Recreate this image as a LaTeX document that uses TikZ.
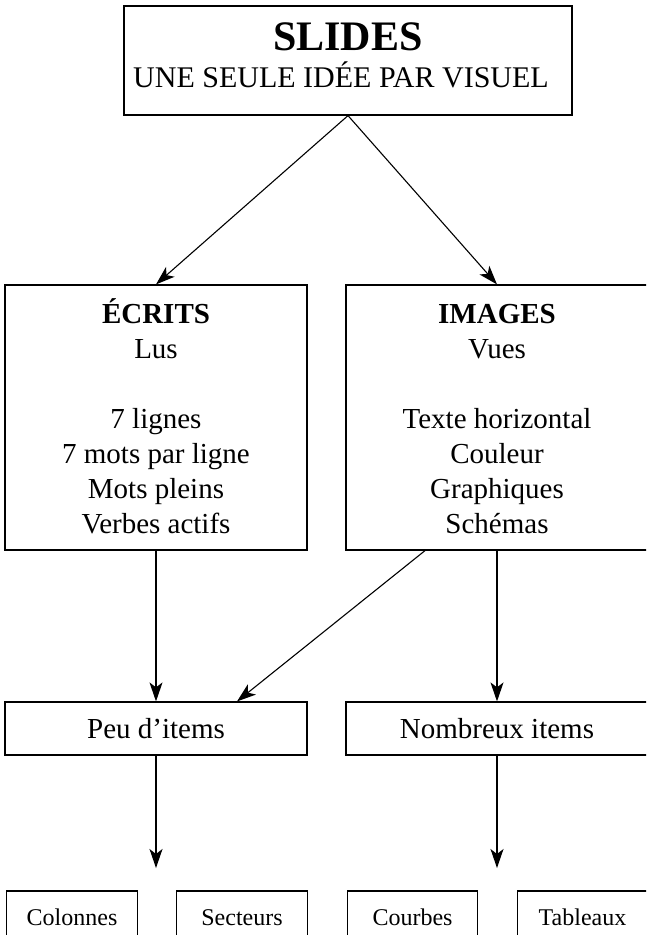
\documentclass[tikz,border=0pt]{standalone}
\usepackage{fontspec}
\setmainfont{Liberation Serif}
\usetikzlibrary{arrows.meta}
\begin{document}
\begin{tikzpicture}[x=1pt,y=-1pt,
  box/.style={draw,line width=1.2pt,rectangle,inner sep=0pt,
    minimum width=#1},
  box/.default=302pt,
  bigbox/.style={box,minimum height=265pt},
  midbox/.style={box,minimum height=53pt,font=\fontsize{29}{35}\selectfont},
  smallbox/.style={box=130.5pt,minimum height=53pt,font=\fontsize{24}{29}\selectfont},
  bodytext/.style={anchor=north,align=center,inner sep=0pt,font=\fontsize{29}{35}\selectfont},
  link/.style={line width=1.1pt,-{Stealth[length=19pt,width=13pt,inset=5pt]}}]
\useasboundingbox (0,0) rectangle (646,935);
\clip (0,0) rectangle (646,935);

% top box
\node[box=448pt,minimum height=109pt] (slides) at (348,60.5) {};
\node[anchor=base,inner sep=0pt,font=\fontsize{42}{50}\selectfont\bfseries] (slidestitle) at (348,50) {SLIDES};
\node[anchor=base,inner sep=0pt,font=\fontsize{30}{35}\selectfont] (slidessub) at (341,87) {UNE SEULE IDÉE PAR VISUEL};

% the two families
\node[bigbox] (ecrits) at (156,417.5) {};
\node[bodytext] (ecritstext) at (156,293) {\rule{0pt}{30pt}\textbf{ÉCRITS}\\Lus\\[35pt]7 lignes\\7 mots par ligne\\Mots pleins\\Verbes actifs};
\node[bigbox] (images) at (497,417.5) {};
\node[bodytext] (imagestext) at (497,293) {\rule{0pt}{30pt}\textbf{IMAGES}\\Vues\\[35pt]Texte horizontal\\Couleur\\Graphiques\\Schémas};

% amount of items
\node[midbox] (peu) at (156,728.5) {Peu d’items};
\node[midbox] (nombreux) at (497,728.5) {Nombreux items};

% chart kinds
\node[smallbox] (colonnes) at (72,917.5) {Colonnes};
\node[smallbox] (secteurs) at (242,917.5) {Secteurs};
\node[smallbox] (courbes) at (412.5,917.5) {Courbes};
\node[smallbox] (tableaux) at (582.5,917.5) {Tableaux};

\coordinate (peuend) at (156,868);
\coordinate (nombreuxend) at (497,868);

% connectors
\draw[link] (slides.south) -- (ecrits.north);
\draw[link] (slides.south) -- (images.north);
\draw[link] (ecrits.south) -- (peu.north);
\draw[link] ([xshift=-72pt]images.south) -- ([xshift=81pt]peu.north);
\draw[link] (images.south) -- (nombreux.north);
\draw[link] (peu.south) -- (peuend);
\draw[link] (nombreux.south) -- (nombreuxend);
\end{tikzpicture}
\end{document}
